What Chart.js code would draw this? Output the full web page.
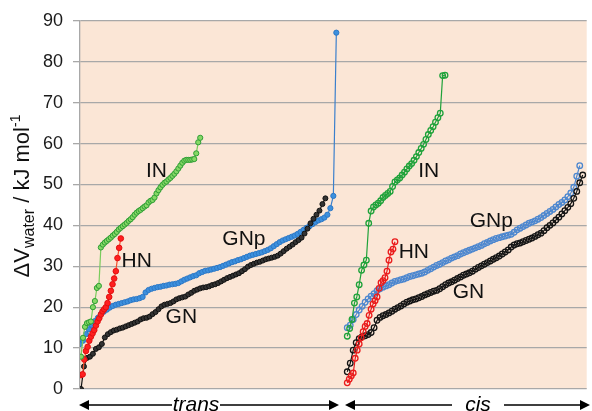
<!DOCTYPE html>
<html>
<head>
<meta charset="utf-8">
<script src="https://cdn.jsdelivr.net/npm/chart.js@4.4.1/dist/chart.umd.min.js"></script>
<style>
  html, body { margin: 0; padding: 0; background: #fff; }
  canvas { display: block; }
</style>
</head>
<body>
<canvas id="waterChart" width="592" height="411"></canvas>
<script>
// values (kJ/mol), ordered by rank
var yTicks = [0, 10, 20, 30, 40, 50, 60, 70, 80, 90];
var groups = ['trans', 'cis'];
var seriesNames = ['GN', 'GNp', 'HN', 'IN'];

var transGN = [0, 5.5, 7.6, 7.9, 8.6, 9.8, 10.2, 11.0, 12.6, 13.4, 13.9, 14.3, 14.5, 14.8, 15.0, 15.3, 15.6, 15.9, 16.2, 16.5,
    17.0, 17.3, 17.4, 17.7, 18.3, 18.8, 19.5, 20.2, 20.6, 20.8, 21.0, 21.4, 21.9, 22.2, 22.4, 22.6, 23.1, 23.5, 24.0, 24.3,
    24.6, 24.8, 24.9, 25.1, 25.4, 25.6, 25.9, 26.3, 26.7, 27.1, 27.4, 27.7, 28.0, 28.3, 28.8, 29.3, 29.9, 30.3, 30.6, 30.9,
    31.1, 31.4, 31.7, 31.9, 32.1, 32.3, 32.6, 33.1, 33.7, 34.3, 34.8, 35.3, 35.9, 36.4, 37.0, 38.0, 39.2, 40.5, 41.6, 42.6,
    43.6, 45.2, 46.6];
var transGNp = [11.0, 11.8, 13.4, 14.6, 15.6, 16.6, 17.4, 18.3, 18.9, 19.4, 19.9, 20.3, 20.6, 20.8, 21.0, 21.2, 21.4, 21.7, 21.9, 22.0,
    22.2, 22.5, 23.6, 24.2, 24.5, 24.7, 24.9, 25.0, 25.2, 25.3, 25.5, 25.6, 25.7, 25.9, 26.3, 26.7, 27.0, 27.3, 27.6, 27.8,
    28.3, 28.6, 28.9, 29.0, 29.2, 29.4, 29.6, 29.8, 30.1, 30.4, 30.7, 31.0, 31.2, 31.5, 31.7, 32.0, 32.3, 32.6, 32.8, 33.0,
    33.2, 33.4, 33.7, 34.0, 34.4, 34.9, 35.4, 35.9, 36.3, 36.6, 36.9, 37.2, 37.5, 37.9, 38.4, 38.9, 39.4, 39.8, 40.3, 40.8,
    41.2, 41.5, 41.9, 42.6, 44.2, 47.2, 87.1];
var transHN = [3.4, 3.6, 7.2, 9.3, 10.3, 11.8, 12.8, 13.6, 14.4, 15.5, 16.5, 17.3, 18.2, 19.0, 19.5, 20.0, 21.0, 22.5, 24.0, 25.6,
    27.0, 28.8, 32.0, 34.5, 36.8];
var transIN = [7.9, 12.5, 15.2, 16.1, 16.3, 16.5, 20.0, 21.5, 24.7, 25.2, 34.6, 35.3, 35.8, 36.2, 36.6, 37.0, 37.5, 37.9, 38.4, 39.0,
    39.4, 39.8, 40.2, 40.6, 41.1, 41.5, 42.0, 42.6, 43.1, 43.5, 43.8, 44.2, 44.6, 44.9, 45.6, 46.0, 46.2, 46.8, 47.8, 48.6,
    49.3, 49.9, 50.4, 50.7, 51.2, 51.6, 52.1, 52.6, 53.2, 53.9, 54.6, 55.3, 55.8, 56.0, 56.0, 56.0, 56.1, 56.2, 57.6, 60.3,
    61.4];

var cisGN = [4.2, 6.3, 9.5, 11.3, 12.3, 12.8, 13.0, 13.3, 13.8, 15.0, 16.8, 17.5, 17.9, 18.2, 18.6, 19.0, 19.5, 19.9, 20.3, 20.8,
    21.2, 21.5, 21.8, 22.0, 22.3, 22.6, 23.0, 23.3, 23.6, 23.9, 24.1, 24.5, 25.0, 25.5, 25.9, 26.2, 26.6, 27.0, 27.4, 27.8,
    28.1, 28.4, 28.8, 29.3, 29.7, 30.1, 30.5, 30.9, 31.3, 31.7, 32.1, 32.5, 33.0, 33.5, 34.0, 34.7, 35.2, 35.5, 35.7, 36.0,
    36.3, 36.6, 36.9, 37.3, 37.7, 38.1, 38.7, 39.4, 40.0, 40.6, 41.3, 42.0, 42.8, 43.6, 44.4, 45.3, 46.6, 48.3, 50.4, 52.3];
var cisGNp = [15.0, 15.6, 17.0, 18.2, 19.3, 20.2, 21.2, 22.0, 22.7, 23.3, 24.0, 24.5, 24.9, 25.2, 25.5, 25.9, 26.3, 26.5, 26.7, 26.9,
    27.2, 27.5, 27.7, 27.9, 28.1, 28.3, 28.6, 29.0, 29.4, 29.8, 30.2, 30.5, 30.9, 31.3, 31.6, 32.0, 32.3, 32.6, 33.0, 33.3,
    33.6, 33.9, 34.2, 34.5, 34.8, 35.1, 35.5, 35.8, 36.2, 36.5, 36.8, 37.0, 37.2, 37.4, 37.6, 37.8, 38.3, 38.9, 39.3, 39.7,
    40.1, 40.5, 40.8, 41.1, 41.5, 41.9, 42.4, 42.9, 43.4, 43.9, 44.5, 45.1, 45.6, 46.2, 47.0, 47.9, 49.3, 52.0, 54.6];
var cisHN = [1.5, 2.4, 3.2, 3.9, 7.5, 9.5, 11.0, 12.5, 14.0, 15.3, 16.0, 18.0, 19.5, 20.8, 21.6, 22.5, 24.6, 26.0, 26.5, 27.2,
    28.8, 31.5, 33.5, 34.2, 36.0];
var cisIN = [12.9, 14.8, 17.0, 21.0, 22.5, 25.5, 29.0, 30.3, 31.5, 40.5, 43.5, 44.5, 45.0, 45.4, 46.0, 46.8, 47.3, 47.8, 48.3, 49.5,
    50.6, 51.1, 51.6, 52.3, 53.0, 53.8, 54.5, 55.1, 55.9, 56.8, 57.8, 58.8, 59.8, 61.0, 62.2, 63.2, 64.1, 65.2, 66.3, 67.4,
    76.6, 76.7];

var FONT = '"Liberation Sans", Arial, sans-serif';

// spread ranked values along the x axis (start, spacing)
function ranked(values, start, step) {
    return values.map(function (v, i) { return { x: start + i * step, y: v }; });
}

function filled(name, values, start, step, line, face, edge, r) {
    return {
        label: name, data: ranked(values, start, step),
        borderColor: line, borderWidth: 1.2,
        pointRadius: r, pointBackgroundColor: face, pointBorderColor: edge, pointBorderWidth: 1
    };
}

function hollow(name, values, start, step, color) {
    return {
        label: name, data: ranked(values, start, step),
        borderColor: color, borderWidth: 1.2,
        pointRadius: 2.8, pointBackgroundColor: 'rgba(0,0,0,0)', pointBorderColor: color, pointBorderWidth: 1.3
    };
}

var datasets = [
    filled('trans IN', transIN, 1, 2, '#7acb5c', '#86d866', '#2f9e35', 2.6),
    filled('trans HN', transHN, 1, 1.67, '#f2512e', '#ff1f1f', '#e01010', 2.8),
    filled('trans GN', transGN, 1, 3, '#111111', '#333333', '#111111', 2.5),
    filled('trans GNp', transGNp, 0, 3, '#3a7fcc', '#3c90de', '#2d78c6', 2.6),
    hollow('cis IN', cisIN, 269, 2.4, '#1fa23a'),
    hollow('cis HN', cisHN, 269, 2, '#ea1c1c'),
    hollow('cis GN', cisGN, 269, 3, '#151515'),
    hollow('cis GNp', cisGNp, 269, 3, '#4d87cf')
];

// where the curve names sit (data units)
var nameTags = [
    { text: seriesNames[3], x: 77, y: 53.2 }, { text: seriesNames[2], x: 57, y: 31.3 },
    { text: seriesNames[1], x: 165, y: 36.6 }, { text: seriesNames[0], x: 102, y: 17.6 },
    { text: seriesNames[3], x: 351, y: 53.2 }, { text: seriesNames[2], x: 336, y: 33.5 },
    { text: seriesNames[1], x: 414, y: 40.9 }, { text: seriesNames[0], x: 391, y: 23.6 }
];

var plotBg = {
    id: 'plotBg',
    beforeDraw: function (chart) {
        var a = chart.chartArea, ctx = chart.ctx;
        ctx.save();
        ctx.fillStyle = '#fbe6d6';
        ctx.fillRect(a.left, a.top, a.right - a.left, a.bottom - a.top);
        ctx.restore();
    }
};

function arrowHead(ctx, x, y, dir) {
    ctx.beginPath();
    ctx.moveTo(x, y);
    ctx.lineTo(x - dir * 10, y - 5);
    ctx.lineTo(x - dir * 10, y + 5);
    ctx.closePath();
    ctx.fill();
}

var decorations = {
    id: 'decorations',
    afterDraw: function (chart) {
        var ctx = chart.ctx, xs = chart.scales.x, ys = chart.scales.y;
        ctx.save();

        // curve names
        ctx.fillStyle = '#111';
        ctx.font = '21px ' + FONT;
        ctx.textAlign = 'center';
        ctx.textBaseline = 'middle';
        nameTags.forEach(function (t) {
            ctx.fillText(t.text, xs.getPixelForValue(t.x), ys.getPixelForValue(t.y));
        });

        // y axis title: ΔV_water / kJ mol^-1
        var parts = [
            { s: '\u0394V', f: '22px ', dy: 0 },
            { s: 'water', f: '16px ', dy: 5 },
            { s: ' / kJ mol', f: '22px ', dy: 0 },
            { s: '-1', f: '14px ', dy: -9 }
        ];
        var total = 0;
        parts.forEach(function (p) { ctx.font = p.f + FONT; p.w = ctx.measureText(p.s).width; total += p.w; });
        ctx.translate(29, 196);
        ctx.rotate(-Math.PI / 2);
        ctx.textAlign = 'left';
        ctx.textBaseline = 'alphabetic';
        var cx = -total / 2;
        parts.forEach(function (p) {
            ctx.font = p.f + FONT;
            ctx.fillText(p.s, cx, p.dy);
            cx += p.w;
        });
        ctx.setTransform(1, 0, 0, 1, 0, 0);

        // trans / cis arrows
        var ay = 405;
        ctx.strokeStyle = '#000';
        ctx.fillStyle = '#000';
        ctx.lineWidth = 1.4;
        ctx.font = 'italic 21px ' + FONT;
        ctx.textAlign = 'center';
        ctx.textBaseline = 'alphabetic';
        var spans = [
            { name: groups[0], from: 79, to: 339, mid: 196, gap: 24 },
            { name: groups[1], from: 345, to: 590, mid: 478, gap: 26 }
        ];
        spans.forEach(function (s) {
            ctx.beginPath();
            ctx.moveTo(s.from + 8, ay); ctx.lineTo(s.mid - s.gap, ay);
            ctx.moveTo(s.mid + s.gap, ay); ctx.lineTo(s.to - 8, ay);
            ctx.stroke();
            arrowHead(ctx, s.from, ay, -1);
            arrowHead(ctx, s.to, ay, 1);
            ctx.fillText(s.name, s.mid, 411);
        });
        ctx.restore();
    }
};

new Chart(document.getElementById('waterChart').getContext('2d'), {
    type: 'line',
    data: { datasets: datasets },
    options: {
        responsive: false,
        animation: false,
        layout: { padding: { left: 0, right: 2, top: 20, bottom: 22 } },
        elements: { line: { tension: 0 } },
        plugins: { legend: { display: false }, tooltip: { enabled: false } },
        scales: {
            x: { type: 'linear', min: 0, max: 510, display: false },
            y: {
                min: yTicks[0], max: yTicks[yTicks.length - 1],
                afterBuildTicks: function (s) { s.ticks = yTicks.map(function (v) { return { value: v }; }); },
                afterFit: function (s) { s.width = 80; },
                ticks: { color: '#1a1a1a', padding: 10, font: { size: 18, family: FONT } },
                grid: { color: '#a8a8a8', lineWidth: 1.3, tickLength: 7 },
                border: { color: '#a8a8a8', width: 1.3 }
            }
        }
    },
    plugins: [plotBg, decorations]
});
</script>
</body>
</html>
